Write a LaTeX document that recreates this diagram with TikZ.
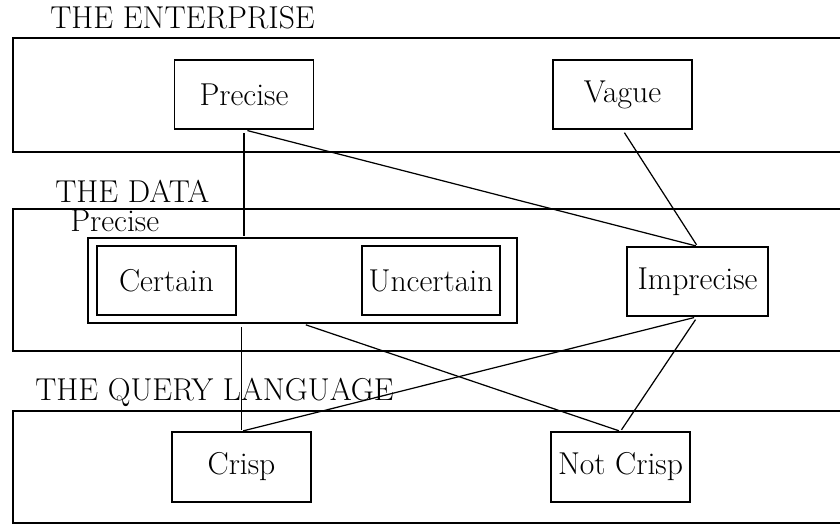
\documentclass[tikz,border=0pt]{standalone}
\usepackage{fontspec}
\usepackage{tikz}
\usetikzlibrary{positioning}
\tikzset{
	box/.style={draw,rectangle,align=center,line width=0.8pt,inner sep=0pt,minimum width=2.78cm,minimum height=1.38cm},
	band/.style={draw,line width=0.8pt},
	title/.style={anchor=base west,inner sep=0pt},
	link/.style={line width=0.7pt,shorten <=2pt,shorten >=1pt}
}

\begin{document}
\begin{tikzpicture}[x=0.02cm,y=-0.02cm,every node/.style={font=\fontsize{18}{21}\selectfont}]
	\useasboundingbox (0,0) rectangle (840,525);
	% the three levels
	\draw[band] (13,38) rectangle (850,152);
	\draw[band] (13,209) rectangle (850,351);
	\draw[band] (13,411) rectangle (850,523);
	\node[title] (tent) at (50,28) {THE ENTERPRISE};
	\node[title] (tdat) at (55,202) {THE DATA};
	\node[title] (tqry) at (35,400) {THE QUERY LANGUAGE};
	\node[title] (tpre) at (70,231) {Precise};
	% enterprise
	\node[box] (pre) at (244,94.5) {Precise};
	\node[box] (vag) at (622.5,94.5) {Vague};
	% data
	\node[box,minimum width=8.58cm,minimum height=1.7cm] (grp) at (302.5,280.5) {};
	\node[box] (cer) at (166.5,280.5) {Certain};
	\node[box,minimum width=2.76cm] (unc) at (431,280.5) {Uncertain};
	\node[box,minimum width=2.82cm] (imp) at (697.5,281.5) {Imprecise};
	% query language
	\node[box,minimum height=1.4cm] (cri) at (241.5,467) {Crisp};
	\node[box,minimum height=1.4cm] (ncr) at (620.5,467) {Not Crisp};
	% links
	\draw[link] (pre.south) -- (pre.south |- grp.north);
	\draw[link] (grp.south -| cri.north) -- (cri.north);
	\draw[link] (pre.south) -- (imp.north);
	\draw[link] (vag.south) -- (imp.north);
	\draw[link] (grp.south) -- (ncr.north);
	\draw[link] (imp.south) -- (cri.north);
	\draw[link] (imp.south) -- (ncr.north);
\end{tikzpicture}
\end{document}
